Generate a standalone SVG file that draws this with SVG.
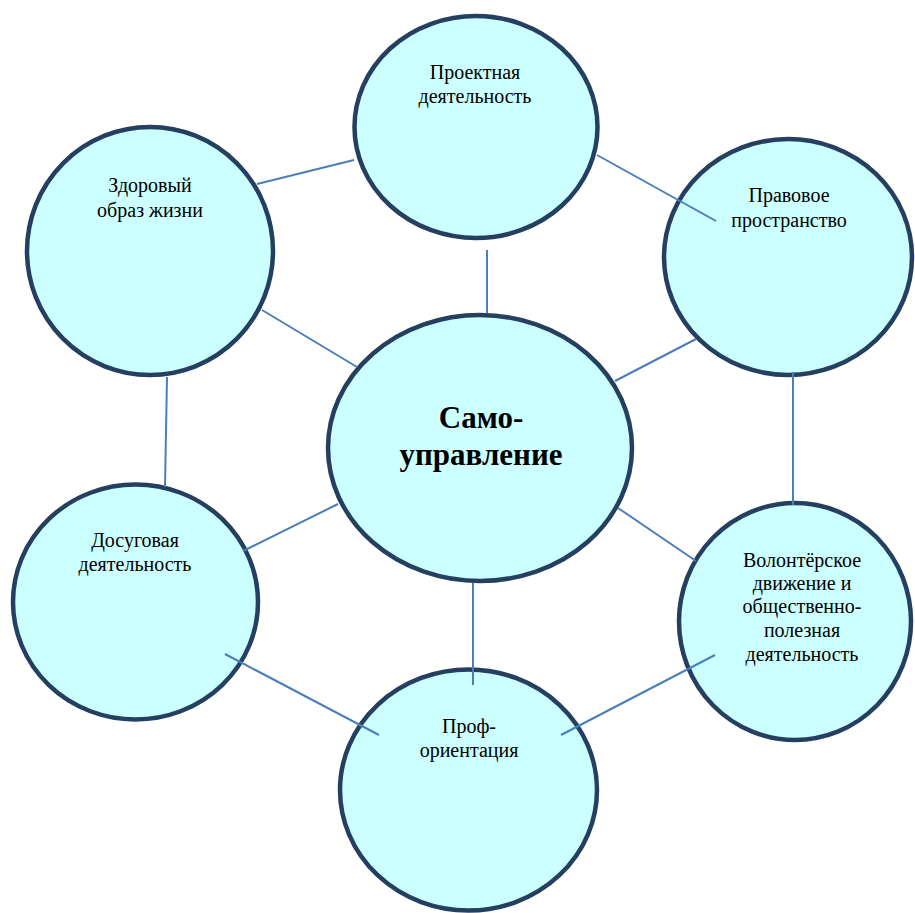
<svg xmlns="http://www.w3.org/2000/svg" width="915" height="913" viewBox="0 0 915 913">
<style>
.node{fill:#CCFFFF;stroke:#243F60;stroke-width:4.5}
.lbl{font-family:"Liberation Serif","Times New Roman",serif;font-size:20px;fill:#000;text-anchor:middle}
.big{font-family:"Liberation Serif","Times New Roman",serif;font-size:31px;font-weight:bold;fill:#000;text-anchor:middle}
.conn line{stroke:#4A7EBB;stroke-width:2}
</style>
<rect width="915" height="913" fill="#fff"/>
<g id="n-proekt">
<ellipse class="node" cx="476" cy="127" rx="121.5" ry="111"/>
<text class="lbl" x="475" y="79">Проектная</text>
<text class="lbl" x="475" y="103">деятельность</text>
</g>
<g id="n-pravo">
<ellipse class="node" cx="788" cy="257" rx="124" ry="118"/>
<text class="lbl" x="789" y="202">Правовое</text>
<text class="lbl" x="789" y="227">пространство</text>
</g>
<g id="n-zdor">
<ellipse class="node" cx="150" cy="251" rx="123" ry="124"/>
<text class="lbl" x="150" y="192">Здоровый</text>
<text class="lbl" x="150" y="217">образ жизни</text>
</g>
<g id="n-center">
<ellipse class="node" cx="480" cy="448" rx="152" ry="133"/>
<text class="big" x="481" y="428">Само-</text>
<text class="big" x="481" y="465">управление</text>
</g>
<g id="n-dosug">
<ellipse class="node" cx="135.5" cy="602" rx="122.5" ry="117.5"/>
<text class="lbl" x="135" y="547">Досуговая</text>
<text class="lbl" x="135" y="571">деятельность</text>
</g>
<g id="n-volont">
<ellipse class="node" cx="795" cy="621.5" rx="116" ry="118.5"/>
<text class="lbl" x="802" y="567">Волонтёрское</text>
<text class="lbl" x="802" y="590">движение и</text>
<text class="lbl" x="802" y="613">общественно-</text>
<text class="lbl" x="802" y="637">полезная</text>
<text class="lbl" x="802" y="661">деятельность</text>
</g>
<g id="n-prof">
<ellipse class="node" cx="468.5" cy="790" rx="128.5" ry="120.5"/>
<text class="lbl" x="469" y="733">Проф-</text>
<text class="lbl" x="469" y="757">ориентация</text>
</g>
<g id="connectors" class="conn">
<line x1="257" y1="184" x2="354" y2="160"/>
<line x1="597" y1="155" x2="716" y2="221"/>
<line x1="487" y1="250" x2="487" y2="313"/>
<line x1="262" y1="310" x2="357" y2="367"/>
<line x1="696" y1="339" x2="615" y2="381"/>
<line x1="167" y1="377" x2="165" y2="487"/>
<line x1="793" y1="372" x2="793" y2="505"/>
<line x1="338" y1="504" x2="243" y2="551"/>
<line x1="618" y1="508" x2="696" y2="561"/>
<line x1="473" y1="583" x2="473" y2="685"/>
<line x1="225" y1="654" x2="379" y2="735"/>
<line x1="715" y1="655" x2="561" y2="735"/>
</g>
</svg>
